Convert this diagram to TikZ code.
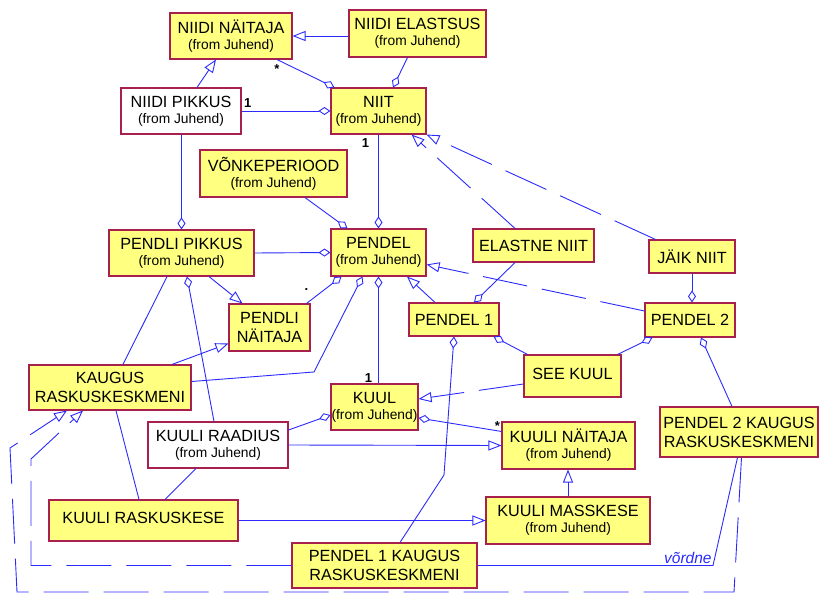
\documentclass[tikz,border=0pt]{standalone}
\usepackage{fontspec}
\setmainfont{Liberation Sans}
\usepackage{xcolor}
\definecolor{boxbd}{HTML}{A8204E}
\definecolor{boxfill}{HTML}{FFFF80}
\definecolor{link}{HTML}{2A2AFF}
\usetikzlibrary{arrows.meta, positioning, calc}
\newcommand{\juhend}{\\[-3pt]{\fontsize{13.8}{15}\selectfont (from Juhend)}}

\begin{document}
\begin{tikzpicture}[
        x=1pt, y=-1pt,
        font=\fontsize{16.2}{19}\selectfont,
        klass/.style 2 args={
            rectangle,
            draw=boxbd,
            line width=1.1pt,
            fill=boxfill,
            align=center,
            inner sep=0pt,
            minimum width=#1pt,
            minimum height=#2pt
        },
        assoc/.style={draw=link, line width=0.9pt},
        gen/.style={assoc, -{Triangle[open, length=13pt, width=10pt]}},
        real/.style={gen, dash pattern=on 45pt off 15pt},
        agg/.style={assoc, {Diamond[open, length=12pt, width=8pt]}-},
        mult/.style={font=\fontsize{13}{13}\selectfont\bfseries, inner sep=1pt}
    ]
    \useasboundingbox (0,0) rectangle (819,593);

    % Thread
    \node[klass={122}{46}] (c_nidnai) at (231,36) {NIIDI NÄITAJA\juhend};
    \node[klass={137}{47}] (c_nidela) at (417.5,33.5) {NIIDI ELASTSUS\juhend};
    \node[klass={120}{46}, fill=white] (c_nidpik) at (181,111) {NIIDI PIKKUS\juhend};
    \node[klass={95}{46}] (c_niit) at (378.5,111) {NIIT\juhend};
    \node[klass={121}{33}] (c_elniit) at (533.5,245.5) {ELASTNE NIIT};
    \node[klass={86}{33}] (c_jaik) at (692,256.5) {JÄIK NIIT};

    % Pendulum
    \node[klass={147}{47}] (c_vonke) at (273.5,173.5) {VÕNKEPERIOOD\juhend};
    \node[klass={145}{46}] (c_penpik) at (181.5,253) {PENDLI PIKKUS\juhend};
    \node[klass={95}{47}] (c_pendel) at (378.5,252.5) {PENDEL\juhend};
    \node[klass={81}{47}] (c_pennai) at (269.5,327.5) {PENDLI\\NÄITAJA};
    \node[klass={90}{33}] (c_pen1) at (454,319.5) {PENDEL 1};
    \node[klass={90}{34}] (c_pen2) at (690,320) {PENDEL 2};

    % Bob
    \node[klass={97}{42}] (c_seekuul) at (572.5,376) {\raisebox{5pt}{SEE KUUL}};
    \node[klass={87}{46}] (c_kuul) at (374.5,407) {KUUL\juhend};
    \node[klass={140}{46}, fill=white] (c_kuurad) at (218,445) {KUULI RAADIUS\juhend};
    \node[klass={133}{47}] (c_kuunai) at (568.5,445.5) {KUULI NÄITAJA\juhend};
    \node[klass={189}{41}] (c_kuurask) at (143.5,520.5) {\raisebox{6pt}{KUULI RASKUSKESE}};
    \node[klass={164}{47}] (c_kuumas) at (568,520.5) {KUULI MASSKESE\juhend};

    % Distances to the centre of mass
    \node[klass={162}{45}] (c_kaugus) at (110,387.5) {KAUGUS\\RASKUSKESKMENI};
    \node[klass={158}{50}] (c_pen2kau) at (739,432) {PENDEL 2 KAUGUS\\RASKUSKESKMENI};
    \node[klass={185}{45}] (c_pen1kau) at (384.5,565.5) {PENDEL 1 KAUGUS\\RASKUSKESKMENI};

    % bends
    \coordinate (b_kaug) at (314,372);
    \coordinate (b_pen1) at (444,475);
    \coordinate (b_vord) at (713,565.5);
    \coordinate (d_in1) at (31,565.5);
    \coordinate (d_in2) at (31,459);
    \coordinate (d_out1) at (734,592);
    \coordinate (d_out2) at (17,592);
    \coordinate (d_out3) at (10,448);

    % generalisations
    \draw[gen] (c_nidela.west |- c_nidnai) -- (c_nidnai.east);
    \draw[gen] ([xshift=16pt]c_nidpik.north) -- ([xshift=-15pt]c_nidnai.south);
    \draw[gen] ([xshift=-19pt]c_pen1.north) -- ([xshift=28.5pt]c_pendel.south);
    \draw[gen] ([xshift=27.5pt]c_penpik.south) -- ([xshift=14pt]c_pennai.north west);
    \draw[gen] ([xshift=62pt]c_kaugus.north) -- ([yshift=-16pt]c_pennai.west);
    \draw[gen] (c_kuurad.east) -- (c_kuunai.west);
    \draw[gen] (c_kuumas.north) -- (c_kuumas.north |- c_kuunai.south);
    \draw[gen] (c_kuurask.east) -- (c_kuumas.west);

    % dashed ones
    \draw[real] ([xshift=-18.5pt]c_elniit.north) -- ([xshift=-15pt]c_niit.south east);
    \draw[real] ([xshift=7pt]c_jaik.north west) -- (c_niit.south east);
    \draw[real] ([yshift=9pt]c_pen2.west) -- ([yshift=-12pt]c_pendel.east);
    \draw[real] ([yshift=-8pt]c_seekuul.west) -- ([yshift=8pt]c_kuul.east);
    \draw[real] (c_pen1kau.west) -- (d_in1) -- (d_in2) -- ([xshift=-27pt]c_kaugus.south);
    \draw[real] ([xshift=2.5pt]c_pen2kau.south) -- (d_out1) -- (d_out2) -- (d_out3) -- ([xshift=-43pt]c_kaugus.south);

    % aggregations
    \draw[agg] ([xshift=4pt]c_niit.north west) -- ([xshift=46pt]c_nidnai.south)
        node[mult, below=4pt] (m_niit) {*};
    \draw[agg] ([xshift=14.5pt]c_niit.north) -- ([xshift=-10pt]c_nidela.south);
    \draw[agg] (c_niit.west) -- (c_nidpik.east)
        node[mult, above right=2pt and 1pt] (m_nidpik) {1};
    \draw[agg] (c_pendel.north) -- (c_niit.south)
        node[mult, below left=3pt and 8pt] (m_pendel) {1};
    \draw[agg] (c_penpik.north) -- (c_penpik.north |- c_nidpik.south);
    \draw[agg] ([xshift=17pt]c_pendel.north west) -- ([xshift=31.5pt]c_vonke.south);
    \draw[agg] (c_pendel.west) -- (c_penpik.east);
    \draw[agg] ([xshift=20pt]c_pen1.north) -- ([xshift=-18.5pt]c_elniit.south);
    \draw[agg] (c_pen2.north -| c_jaik.south) -- (c_jaik.south);
    \draw[agg] ([xshift=11pt]c_pendel.south west) -- ([xshift=-4pt]c_pennai.north east)
        node[mult, above=11pt] (m_pennai) {.};
    \draw[agg] ([xshift=-16pt]c_pendel.south) -- (b_kaug) -- ([yshift=6pt]c_kaugus.east);
    \draw[agg] ([xshift=5.5pt]c_penpik.south) -- ([xshift=-4pt]c_kuurad.north);
    \draw[agg] (c_pendel.south) -- (c_pendel.south |- c_kuul.north)
        node[mult, above left=0pt and 5pt] (m_kuul) {1};
    \draw[agg] ([yshift=-8pt]c_kuul.west) -- ([yshift=15pt]c_kuurad.east);
    \draw[agg] ([yshift=-11pt]c_kuul.east) -- ([yshift=-10pt]c_kuunai.north west)
        node[mult, above left=0pt and 0pt] (m_kuunai) {*};
    \draw[agg] ([xshift=-6pt]c_pen1.south east) -- ([xshift=4pt]c_seekuul.north west);
    \draw[agg] ([xshift=8pt]c_pen2.south west) -- ([xshift=-4pt]c_seekuul.north east);
    \draw[agg] ([xshift=11pt]c_pen2.south) -- ([xshift=-7pt]c_pen2kau.north);
    \draw[agg] (c_pen1.south) -- (b_pen1) -- ([xshift=15.5pt]c_pen1kau.north);

    % plain associations
    \draw[assoc] ([xshift=-14.5pt]c_penpik.south) -- ([xshift=13pt]c_kaugus.north);
    \draw[assoc] ([xshift=6pt]c_kaugus.south) -- ([xshift=-4.5pt]c_kuurask.north);
    \draw[assoc] ([xshift=-22pt]c_kuurad.south) -- ([xshift=21.5pt]c_kuurask.north);
    \draw[assoc] (c_pen1kau.east) -- (b_vord)
        node[anchor=south east, inner sep=1pt, text=link, font=\fontsize{15.5}{16}\selectfont\itshape] (m_vord) {võrdne}
        -- ([xshift=-1.5pt]c_pen2kau.south);

\end{tikzpicture}
\end{document}
